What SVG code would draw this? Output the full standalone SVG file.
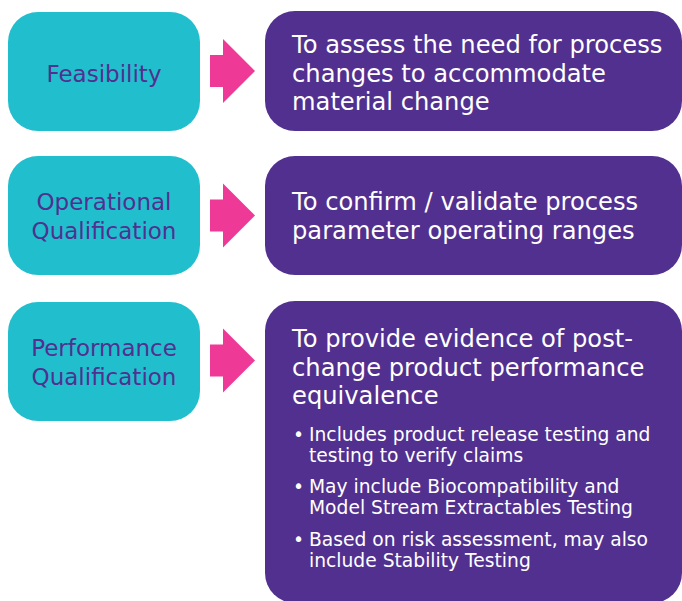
<svg xmlns="http://www.w3.org/2000/svg" width="682" height="601" viewBox="0 0 682 601">
<defs>
<style>
.stage{fill:#21BFCE}
.desc{fill:#52308F}
.arrow{fill:#EE3A96}
.st{font-family:"DejaVu Sans",Verdana,sans-serif;font-size:23px;fill:#52308F;text-anchor:middle}
.dt{font-family:"DejaVu Sans",Verdana,sans-serif;font-size:24.2px;fill:#FFFFFF}
.bt{font-family:"DejaVu Sans",Verdana,sans-serif;font-size:18.7px;fill:#FFFFFF}
</style>
</defs>
<rect width="682" height="601" fill="#FFFFFF"/>
<g id="feasibility">
<rect class="stage" x="8" y="12" width="192" height="119" rx="30"/>
<text class="st" x="104" y="82">Feasibility</text>
</g>
<g id="feasibility-desc">
<rect class="desc" x="265" y="11" width="417" height="120" rx="30"/>
<text class="dt" x="292" y="53">To assess the need for process</text>
<text class="dt" x="292" y="81.5">changes to accommodate</text>
<text class="dt" x="292" y="110">material change</text>
</g>
<g id="oq">
<rect class="stage" x="8" y="156" width="192" height="119" rx="30"/>
<text class="st" x="104" y="210">Operational</text>
<text class="st" x="104" y="239">Qualification</text>
</g>
<g id="oq-desc">
<rect class="desc" x="265" y="156" width="417" height="119" rx="30"/>
<text class="dt" x="292" y="210">To confirm / validate process</text>
<text class="dt" x="292" y="239">parameter operating ranges</text>
</g>
<g id="pq">
<rect class="stage" x="8" y="302" width="192" height="119" rx="30"/>
<text class="st" x="104" y="356">Performance</text>
<text class="st" x="104" y="385">Qualification</text>
</g>
<g id="pq-desc">
<rect class="desc" x="265" y="301" width="417" height="302" rx="30"/>
<text class="dt" x="292" y="347">To provide evidence of post-</text>
<text class="dt" x="292" y="375.5">change product performance</text>
<text class="dt" x="292" y="404">equivalence</text>
<text class="bt" x="293" y="441">•</text>
<text class="bt" x="309" y="441">Includes product release testing and</text>
<text class="bt" x="309" y="462">testing to verify claims</text>
<text class="bt" x="293" y="493">•</text>
<text class="bt" x="309" y="493">May include Biocompatibility and</text>
<text class="bt" x="309" y="514">Model Stream Extractables Testing</text>
<text class="bt" x="293" y="546">•</text>
<text class="bt" x="309" y="546">Based on risk assessment, may also</text>
<text class="bt" x="309" y="567">include Stability Testing</text>
</g>
<g id="connectors">
<polygon class="arrow" points="210,55 223,55 223,39 255,71 223,103 223,87 210,87"/>
<polygon class="arrow" points="210,199.5 223,199.5 223,183.5 255,215.5 223,247.5 223,231.5 210,231.5"/>
<polygon class="arrow" points="210,344.5 223,344.5 223,328.5 255,360.5 223,392.5 223,376.5 210,376.5"/>
</g>
</svg>
